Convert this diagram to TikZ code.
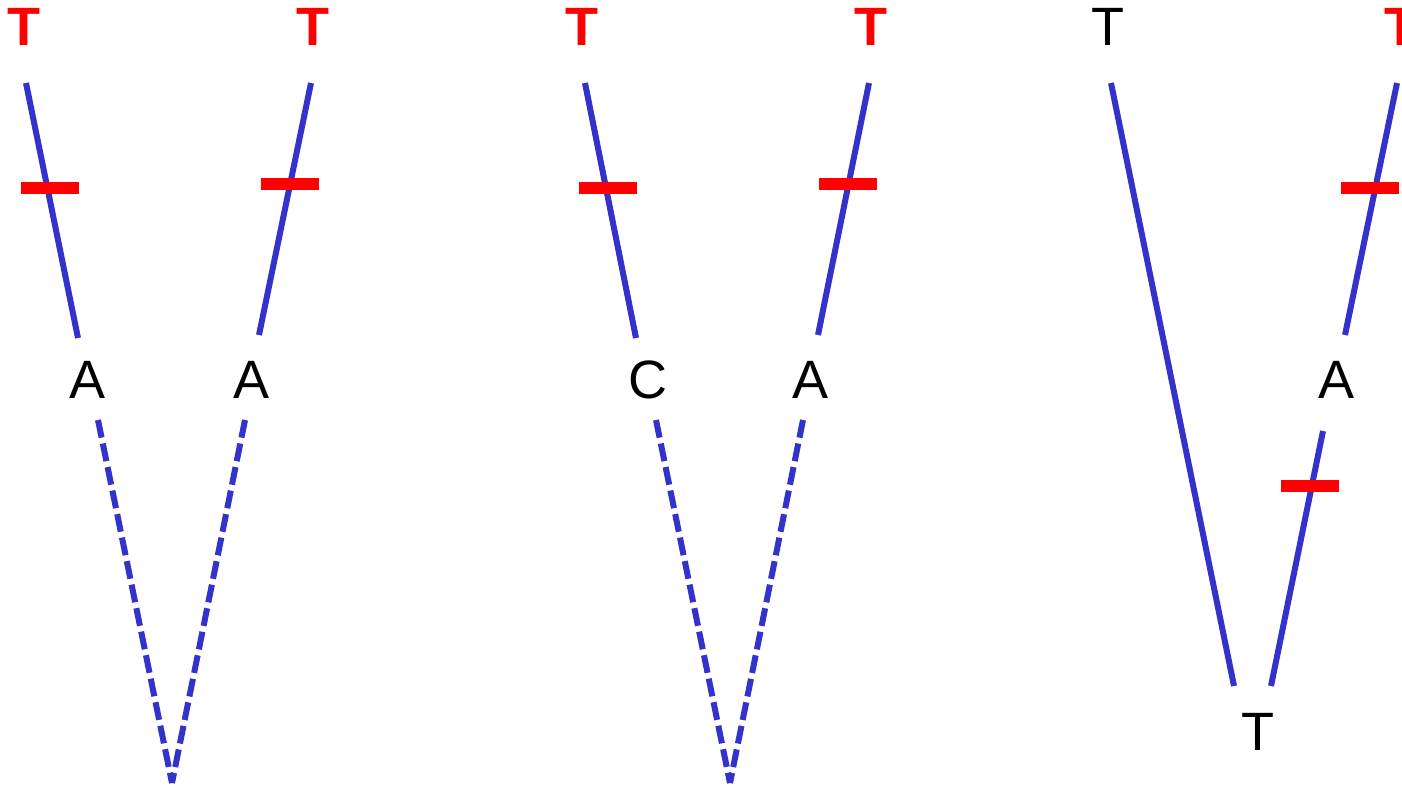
\documentclass[tikz,border=0pt]{standalone}
\usepackage{fontspec}
\setmainfont{Liberation Sans}
\definecolor{branchblue}{RGB}{51,51,204}
\begin{document}
\begin{tikzpicture}[x=1pt,y=-1pt,
                    branch/.style={draw=branchblue,line width=6pt},
                    anc/.style={branch,dash pattern=on 18pt off 6pt},
                    mut/.style={fill=red,inner sep=0pt,minimum width=58pt,minimum height=12pt},
                    base/.style={font=\fontsize{54}{60}\selectfont,inner sep=0pt},
                    tip/.style={base,font=\fontsize{54}{60}\selectfont\bfseries,text=red}]
 \useasboundingbox (0,0) rectangle (1402,786);
 % first pair
 \node[tip] (t1) at (24,27) {T}; \node[tip] (t2) at (313,27) {T};
 \node[base] (a1) at (88,380) {A}; \node[base] (a2) at (252,380) {A};
 \coordinate (t1e) at (26,83); \coordinate (a1n) at (78,338);
 \coordinate (t2e) at (311,83); \coordinate (a2n) at (259,335);
 \coordinate (a1s) at (98,420); \coordinate (a2s) at (245,420);
 \coordinate (r1) at (172,783);
 \draw[branch] (t1e)--(a1n); \draw[branch] (t2e)--(a2n);
 \draw[anc] (a1s)--(r1); \draw[anc] (a2s)--(r1);
 \node[mut] (m1) at (49.5,188) {}; \node[mut] (m2) at (289.5,184) {};
 % second pair
 \node[tip] (t3) at (582,27) {T}; \node[tip] (t4) at (871,27) {T};
 \node[base] (c3) at (648,380) {C}; \node[base] (a4) at (810,380) {A};
 \coordinate (t3e) at (585,83); \coordinate (c3n) at (636,338);
 \coordinate (t4e) at (869,83); \coordinate (a4n) at (818,335);
 \coordinate (c3s) at (656,420); \coordinate (a4s) at (803,420);
 \coordinate (r2) at (730,783);
 \draw[branch] (t3e)--(c3n); \draw[branch] (t4e)--(a4n);
 \draw[anc] (c3s)--(r2); \draw[anc] (a4s)--(r2);
 \node[mut] (m3) at (607.5,188) {}; \node[mut] (m4) at (848,184) {};
 % third pair
 \node[base] (t5) at (1108,27) {T}; \node[tip] (t6) at (1401,27) {T};
 \node[base] (a6) at (1336,380) {A}; \node[base] (r3) at (1258,732) {T};
 \coordinate (t5e) at (1111,83); \coordinate (r3l) at (1234,686);
 \coordinate (t6e) at (1397,83); \coordinate (a6n) at (1345,335);
 \coordinate (a6s) at (1323,431); \coordinate (r3r) at (1271,686);
 \draw[branch] (t5e)--(r3l); \draw[branch] (t6e)--(a6n);
 \draw[branch] (a6s)--(r3r);
 \node[mut] (m5) at (1370,188) {}; \node[mut] (m6) at (1309.5,486) {};
\end{tikzpicture}
\end{document}
